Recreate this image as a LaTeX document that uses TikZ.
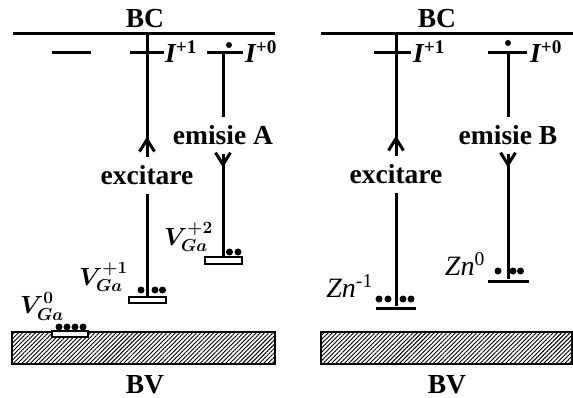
\documentclass[tikz,border=0pt]{standalone}
\usepackage{amsmath}
\usepackage{fontspec}
\setmainfont{Liberation Serif}
\usetikzlibrary{arrows.meta,positioning,patterns.meta,decorations.markings}

\begin{document}
\begin{tikzpicture}[
    x=1pt, y=-1pt,
    font=\fontsize{27.5}{32}\selectfont\bfseries,
    % --- node styles -------------------------------------------------
    bar/.style={fill=black, inner sep=0pt, minimum height=3pt},
    trap/.style={
        draw, fill=white, line width=1.7pt, inner sep=0pt,
        minimum width=36pt, minimum height=6.5pt
    },
    elec/.style={circle, fill=black, inner sep=0pt, minimum size=7pt},
    band/.style={
        draw, line width=2pt, inner sep=0pt, minimum height=32pt,
        pattern={Lines[angle=45,distance=3pt,line width=0.9pt]}
    },
    flowlbl/.style={anchor=base, inner xsep=2pt, inner ysep=9pt},
    vlbl/.style={font=\fontsize{25.5}{30}\selectfont, inner sep=0pt, anchor=base east},
    znlbl/.style={font=\fontsize{28}{32}\selectfont\mdseries, inner sep=0pt, anchor=base east},
    ilbl/.style={inner sep=0pt, anchor=base west},
    % --- line styles -------------------------------------------------
    stem/.style={line width=3pt},
    barb/.style={postaction={decorate}, decoration={markings,
        mark=at position #1 with {\arrow{Straight Barb[length=12pt,width=15pt]}}}}
]
\useasboundingbox (0,0) rectangle (573,398);

% --- left panel: bands --------------------------------------------
\node[anchor=base] (bcLtxt) at (145,28) {BC};
\node[bar, minimum width=262pt] (bcL) at (144,34) {};
\node[band, minimum width=263pt] (bvL) at (143.5,348) {};
\node[anchor=base] (bvLtxt) at (145,393) {BV};

% --- left panel: levels -------------------------------------------
\node[bar, minimum width=39pt] (dashL) at (71.5,53) {};
\node[bar, minimum width=34pt] (i1L) at (147,53) {};
\node[bar, minimum width=36pt] (i0L) at (225,53) {};
\node[elec, minimum size=6pt] (i0Le) at (229,45) {};
\node[ilbl] (i1Ltxt) at (165,63) {{\itshape I}\textsuperscript{+1}};
\node[ilbl] (i0Ltxt) at (245,63) {{\itshape I}\textsuperscript{+0}};

\node[trap, minimum width=37pt] (vga1) at (147.5,300) {};
\node[trap, minimum width=37pt] (vga2) at (223.5,260.5) {};
\node[trap] (vga0) at (70,334) {};
\node[vlbl] (vga1txt) at (128,285) {$\boldsymbol{V^{+1}_{Ga}}$};
\node[vlbl] (vga2txt) at (213,245) {$\boldsymbol{V^{+2}_{Ga}}$};
\node[vlbl] (vga0txt) at (64,313) {$\boldsymbol{V^{0}_{Ga}}$};

% electrons
\foreach \x [count=\i] in {141,155,162.5}
    \node[elec] (e1\i) at (\x,290) {};
\foreach \x [count=\i] in {229.5,238}
    \node[elec] (e2\i) at (\x,252) {};
\foreach \x [count=\i] in {59,67,75,83}
    \node[elec] (e0\i) at (\x,327) {};

% --- left panel: transitions --------------------------------------
\node[flowlbl] (excL) at (147,185) {excitare};
\node[flowlbl] (emA) at (223,145) {emisie A};

\draw[stem, barb=20pt] (excL.north) -- (excL.north |- bcL.center);
\draw[stem] (excL.south) -- (excL.south |- vga1.north);
\draw[stem] (emA.north) -- (emA.north |- i0L.center);
\draw[stem, barb=13pt] (emA.south) -- (emA.south |- vga2.north);

% --- right panel: bands -------------------------------------------
\node[anchor=base] (bcRtxt) at (437,28) {BC};
\node[bar, minimum width=252pt] (bcR) at (447,34) {};
\node[band, minimum width=251pt] (bvR) at (446.5,348) {};
\node[anchor=base] (bvRtxt) at (447,393) {BV};

% --- right panel: levels ------------------------------------------
\node[bar, minimum width=37pt] (i1R) at (392,53) {};
\node[bar, minimum width=39pt] (i0R) at (507.5,53) {};
\node[elec, minimum size=6pt] (i0Re) at (508,43) {};
\node[ilbl] (i1Rtxt) at (413,63) {{\itshape I}\textsuperscript{+1}};
\node[ilbl] (i0Rtxt) at (530,63) {{\itshape I}\textsuperscript{+0}};

\node[bar, minimum width=40pt] (zn1) at (396,308) {};
\node[bar, minimum width=41pt] (zn0) at (508,281) {};
\node[znlbl] (zn1txt) at (373,297) {\textit{Zn}\textsuperscript{-1}};
\node[znlbl] (zn0txt) at (485,275) {\textit{Zn}\textsuperscript{0}};

% electrons
\foreach \x [count=\i] in {379,388,403,411}
    \node[elec] (z1\i) at (\x,299) {};
\foreach \x [count=\i] in {498,513,520.5}
    \node[elec] (z0\i) at (\x,271) {};

% --- right panel: transitions -------------------------------------
\node[flowlbl] (excR) at (396,184) {excitare};
\node[flowlbl] (emB) at (508,145) {emisie B};

\draw[stem, barb=20pt] (excR.north) -- (excR.north |- bcR.center);
\draw[stem] (excR.south) -- (excR.south |- zn1.north);
\draw[stem] (emB.north) -- (emB.north |- i0R.center);
\draw[stem, barb=13pt] (emB.south) -- (emB.south |- zn0.north);

\end{tikzpicture}
\end{document}
